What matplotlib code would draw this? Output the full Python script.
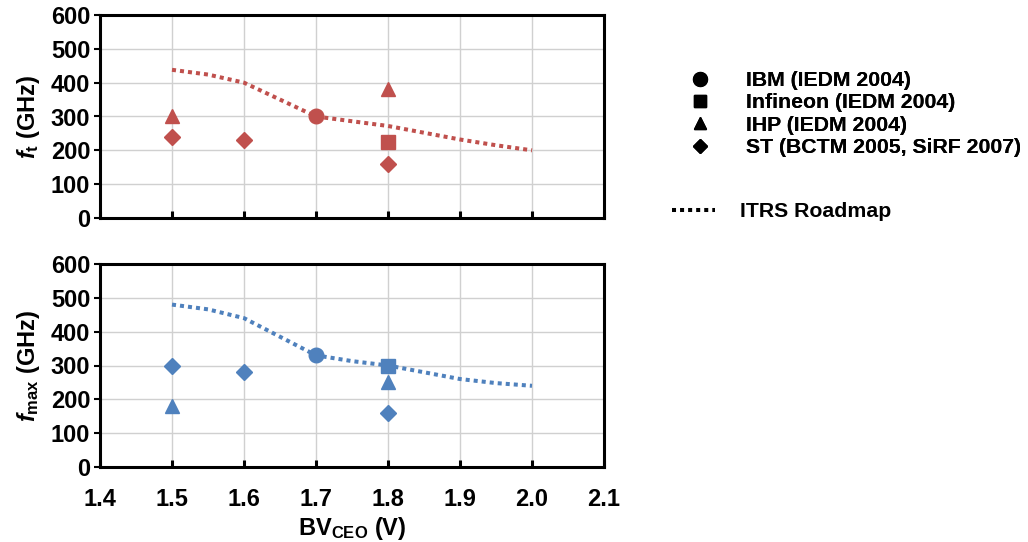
import matplotlib
matplotlib.use('Agg')
import matplotlib.pyplot as plt
from matplotlib.lines import Line2D

plt.rcParams['font.family'] = 'Liberation Sans'
plt.rcParams['font.weight'] = 'bold'
plt.rcParams['axes.labelweight'] = 'bold'
plt.rcParams['mathtext.fontset'] = 'custom'
plt.rcParams['mathtext.rm'] = 'Liberation Sans:bold'
plt.rcParams['mathtext.it'] = 'Liberation Sans:italic:bold'
plt.rcParams['mathtext.bf'] = 'Liberation Sans:bold'

RED = '#C0504D'
BLUE = '#4F81BD'

# ITRS roadmap curves
itrs_x = [1.5, 1.55, 1.6, 1.65, 1.7, 1.75, 1.8, 1.85, 1.9, 1.95, 2.0]
itrs_ft = [438, 424, 400, 350, 300, 286, 272, 252, 232, 215, 200]
itrs_fmax = [480, 466, 440, 385, 330, 313, 300, 280, 260, 248, 240]

# measured devices
ibm_x = [1.7]
ibm_ft = [300]
ibm_fmax = [330]
infineon_x = [1.8]
infineon_ft = [225]
infineon_fmax = [300]
ihp_x = [1.5, 1.8]
ihp_ft = [300, 380]
ihp_fmax = [180, 250]
st_x = [1.5, 1.6, 1.8]
st_ft = [240, 230, 160]
st_fmax = [300, 280, 160]

xticks = [1.4, 1.5, 1.6, 1.7, 1.8, 1.9, 2.0, 2.1]
yticks = [0, 100, 200, 300, 400, 500, 600]

fig = plt.figure(figsize=(10.28, 5.42), dpi=100)
ax1 = fig.add_axes([100/1028, 1-218/542, 504/1028, 203/542])
ax2 = fig.add_axes([100/1028, 1-467/542, 504/1028, 203/542])


def draw(ax, col, itrs, ibm, inf, ihp, st):
    ax.plot(itrs_x, itrs, color=col, lw=2.9, ls=(0, (1, 1)), dash_capstyle='butt', zorder=2)
    ax.plot(ibm_x, ibm, 'o', color=col, ms=10.5, zorder=3)
    ax.plot(infineon_x, inf, 's', color=col, ms=9.5, zorder=3)
    ax.plot(ihp_x, ihp, '^', color=col, ms=9.5, zorder=3)
    ax.plot(st_x, st, 'D', color=col, ms=8, zorder=3)
    ax.set_xlim(1.4, 2.1)
    ax.set_ylim(0, 600)
    ax.set_xticks(xticks)
    ax.set_yticks(yticks)
    ax.grid(True, color='#D0D0D0', lw=1.0)
    ax.set_axisbelow(True)
    for s in ax.spines.values():
        s.set_linewidth(2.2)
    ax.tick_params(axis='x', direction='in', length=5, width=2.2, labelsize=17, pad=15)
    ax.tick_params(axis='y', direction='out', length=4, width=1.5, labelsize=17, pad=3)
    for t in ax.get_xticklabels() + ax.get_yticklabels():
        t.set_fontweight('bold')


draw(ax1, RED, itrs_ft, ibm_ft, infineon_ft, ihp_ft, st_ft)
draw(ax2, BLUE, itrs_fmax, ibm_fmax, infineon_fmax, ihp_fmax, st_fmax)
ax1.tick_params(axis='x', labelbottom=False)
ax1.set_ylabel(r'$f_{\mathrm{t}}$ (GHz)', fontsize=17, fontweight='bold', labelpad=6)
ax2.set_ylabel(r'$f_{\mathrm{max}}$ (GHz)', fontsize=17, fontweight='bold', labelpad=6)
ax2.set_xlabel(r'BV$_{\mathrm{CEO}}$ (V)', fontsize=17, fontweight='bold', labelpad=3)

handles = [
    Line2D([], [], marker='o', color='k', ls='none', ms=10),
    Line2D([], [], marker='s', color='k', ls='none', ms=9),
    Line2D([], [], marker='^', color='k', ls='none', ms=9),
    Line2D([], [], marker='D', color='k', ls='none', ms=7.5),
]
labels = ['IBM (IEDM 2004)', 'Infineon (IEDM 2004)', 'IHP (IEDM 2004)', 'ST (BCTM 2005, SiRF 2007)']
leg1 = fig.legend(handles, labels, loc='upper left', bbox_to_anchor=(680/1028, 1-71/542),
                  frameon=False, fontsize=15.3, labelspacing=0.16, handlelength=1.9,
                  handletextpad=1.2, borderpad=0, borderaxespad=0)
fig.legend([Line2D([], [], color='k', lw=2.9, ls=(0, (1, 1)), dash_capstyle='butt')],
           ['ITRS Roadmap'], loc='upper left', bbox_to_anchor=(672/1028, 1-202/542),
           frameon=False, fontsize=15.3, handlelength=2.0, handletextpad=1.2,
           borderpad=0, borderaxespad=0)
fig.add_artist(leg1)

plt.savefig('out.png', dpi=100)
